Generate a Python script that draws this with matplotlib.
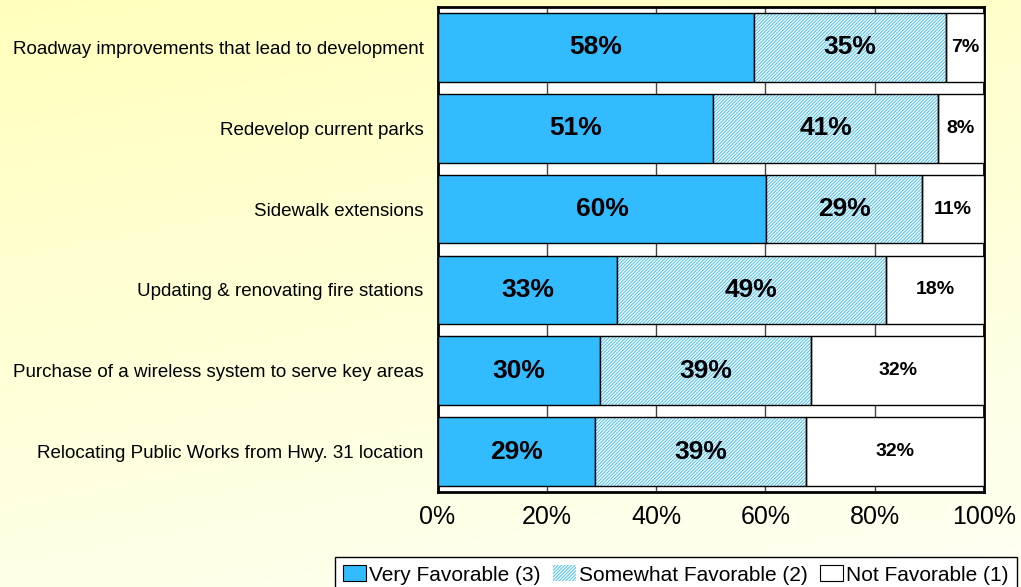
import numpy as np
import matplotlib
matplotlib.use("Agg")
import matplotlib.pyplot as plt
from matplotlib.patches import Patch

plt.rcParams['font.family'] = ['Liberation Sans', 'DejaVu Sans']
plt.rcParams['hatch.linewidth'] = 0.8

# survey items, top to bottom
items = ['Roadway improvements that lead to development',
         'Redevelop current parks',
         'Sidewalk extensions',
         'Updating & renovating fire stations',
         'Purchase of a wireless system to serve key areas',
         'Relocating Public Works from Hwy. 31 location']
very = [58.0, 50.5, 60.2, 32.9, 29.8, 28.9]
somewhat = [35.0, 41.0, 28.5, 49.1, 38.6, 38.6]
not_fav = [7.0, 8.5, 11.3, 18.0, 31.6, 32.5]
very_lbl = ['58%', '51%', '60%', '33%', '30%', '29%']
some_lbl = ['35%', '41%', '29%', '49%', '39%', '39%']
not_lbl = ['7%', '8%', '11%', '18%', '32%', '32%']
series_names = ['Very Favorable (3)', 'Somewhat Favorable (2)', 'Not Favorable (1)']
xticks = [0, 20, 40, 60, 80, 100]

blue = '#33BBFF'
hatch_blue = '#55C4F5'
hatch = '/' * 10

fig = plt.figure(figsize=(10.21, 5.87), dpi=100)

# yellow-ish gradient background
bg = fig.add_axes([0, 0, 1, 1], zorder=-10)
yy, xx = np.mgrid[0:1:200j, 0:1:200j]
t = np.clip(0.75 * yy + 0.25 * xx, 0, 1)
top = np.array([1.0, 1.0, 0.74])
bot = np.array([1.0, 1.0, 0.96])
img = top[None, None, :] * (1 - t[..., None]) + bot[None, None, :] * t[..., None]
bg.imshow(img, aspect='auto', extent=[0, 1, 0, 1])
bg.axis('off')

ax = fig.add_axes([437.5 / 1021, 1 - 492 / 587, (984 - 437.5) / 1021, (492 - 7) / 587])
ax.set_facecolor('white')

y = np.arange(len(items))
h = 0.85
very = np.array(very)
somewhat = np.array(somewhat)
not_fav = np.array(not_fav)

ax.barh(y, very, height=h, color=blue, edgecolor='black', linewidth=1, zorder=3)
ax.barh(y, somewhat, left=very, height=h, color='white', edgecolor=hatch_blue,
        hatch=hatch, linewidth=0, zorder=3)
ax.barh(y, somewhat, left=very, height=h, fill=False, edgecolor='black', linewidth=1, zorder=4)
ax.barh(y, not_fav, left=very + somewhat, height=h, color='white',
        edgecolor='black', linewidth=1, zorder=3)

for i in range(len(items)):
    ax.text(very[i] / 2, y[i], very_lbl[i], ha='center', va='center',
            fontsize=19, fontweight='bold', zorder=5)
    ax.text(very[i] + somewhat[i] / 2, y[i], some_lbl[i], ha='center', va='center',
            fontsize=19, fontweight='bold', zorder=5)
    ax.text(very[i] + somewhat[i] + not_fav[i] / 2, y[i], not_lbl[i], ha='center',
            va='center', fontsize=14, fontweight='bold', zorder=5)

ax.set_xlim(0, 100)
ax.set_ylim(len(items) - 0.5, -0.5)
ax.set_xticks(xticks)
ax.set_xticklabels([f'{v}%' for v in xticks], fontsize=18)
ax.set_yticks(y)
ax.set_yticklabels(items, fontsize=13.5)
ax.tick_params(axis='x', length=0, pad=9)
ax.tick_params(axis='y', length=0, pad=10)
for v in xticks[1:-1]:
    ax.axvline(v, color='#444444', linewidth=1, zorder=1)
for s in ax.spines.values():
    s.set_linewidth(2)
    s.set_color('black')

handles = [Patch(facecolor=blue, edgecolor='black', linewidth=0.8),
           Patch(facecolor='white', edgecolor=hatch_blue, hatch=hatch, linewidth=0),
           Patch(facecolor='white', edgecolor='black', linewidth=0.8)]
leg = fig.legend(handles, series_names, loc='upper center',
                 bbox_to_anchor=(676 / 1021, 1 - 557 / 587), ncol=3, fontsize=15,
                 frameon=True, fancybox=False, edgecolor='black', framealpha=1,
                 handlelength=1.1, handleheight=0.8, handletextpad=0.15,
                 columnspacing=0.6, borderpad=0.4, borderaxespad=0)
leg.get_frame().set_linewidth(1)

fig.savefig('out.png', dpi=100)
